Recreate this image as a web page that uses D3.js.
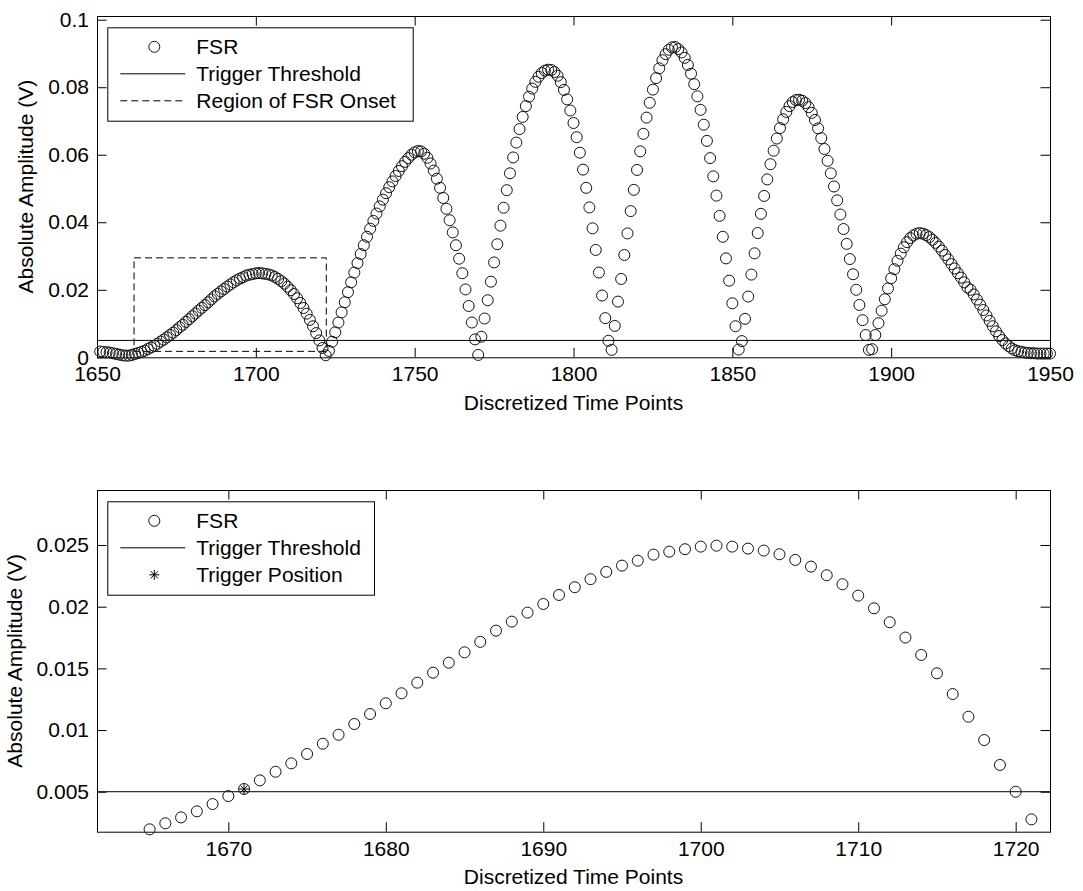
<!DOCTYPE html>
<html>
<head>
<meta charset="utf-8">
<script src="https://cdn.jsdelivr.net/npm/d3@7"></script>
<style>
  body { margin: 0; background: #fff; }
  svg { display: block; font-family: "Liberation Sans", Arial, sans-serif; }
</style>
</head>
<body>
<script>
// ----------------------- DATA
// FSR absolute amplitude, one value per discretized time point, starting at fsrStart
const fsrStart = 1651;
const fsrValues = [
  0.0017, 0.0016, 0.0015, 0.0014, 0.0012, 0.0010, 0.0008, 0.0006, 0.0005, 0.0005,
  0.0007, 0.0010, 0.0013, 0.0016,
  // 1665 - 1721
  0.00195, 0.00244, 0.00292, 0.00341, 0.0040, 0.00465, 0.00522, 0.00592, 0.00662, 0.0073,
  0.00806, 0.00889, 0.00962, 0.01049, 0.0113, 0.01217, 0.01298, 0.01384, 0.01465, 0.01546,
  0.0163, 0.01715, 0.01806, 0.01879, 0.01952, 0.02022, 0.02095, 0.02158, 0.02223, 0.02282,
  0.02333, 0.02373, 0.02422, 0.02446, 0.02466, 0.02487, 0.02495, 0.02487, 0.02471, 0.02455,
  0.02425, 0.02379, 0.02325, 0.02255, 0.02182, 0.0209, 0.01987, 0.01874, 0.0175, 0.01609,
  0.0146, 0.01292, 0.01108, 0.00919, 0.00717, 0.0050, 0.00276,
  // 1722 - 1770
  0.0006, 0.0019, 0.0046, 0.0074, 0.0103, 0.0133, 0.0163, 0.0193, 0.0222, 0.0251,
  0.0279, 0.0306, 0.0332, 0.0357, 0.0381, 0.0404, 0.0426, 0.0447, 0.0467, 0.0486,
  0.0504, 0.0521, 0.0537, 0.0552, 0.0566, 0.0579, 0.0590, 0.0600, 0.0607, 0.0611,
  0.0610, 0.0603, 0.0591, 0.0574, 0.0553, 0.0529, 0.0502, 0.0472, 0.0440, 0.0406,
  0.0370, 0.0332, 0.0292, 0.0249, 0.0201, 0.0152, 0.0103, 0.0053, 0.0007,
  // 1771 - 1812
  0.0061, 0.0115, 0.0169, 0.0224, 0.0281, 0.0335, 0.0390, 0.0443, 0.0495, 0.0545,
  0.0592, 0.0636, 0.0676, 0.0712, 0.0744, 0.0772, 0.0796, 0.0816, 0.0831, 0.0842,
  0.0849, 0.0852, 0.0851, 0.0845, 0.0834, 0.0815, 0.0792, 0.0764, 0.0731, 0.0694,
  0.0652, 0.0606, 0.0556, 0.0502, 0.0444, 0.0382, 0.0318, 0.0251, 0.0183, 0.0116,
  0.0049, 0.0022,
  // 1813 - 1852
  0.0093, 0.0165, 0.0232, 0.0303, 0.0367, 0.0433, 0.0496, 0.0555, 0.0610, 0.0662,
  0.0710, 0.0754, 0.0793, 0.0827, 0.0856, 0.0880, 0.0898, 0.0911, 0.0918, 0.0919,
  0.0913, 0.0903, 0.0887, 0.0866, 0.0840, 0.0809, 0.0773, 0.0733, 0.0689, 0.0641,
  0.0590, 0.0536, 0.0479, 0.0419, 0.0357, 0.0293, 0.0227, 0.0160, 0.0092, 0.0023,
  // 1853 - 1894
  0.0048, 0.0114, 0.0180, 0.0245, 0.0308, 0.0368, 0.0425, 0.0478, 0.0527, 0.0572,
  0.0612, 0.0648, 0.0679, 0.0705, 0.0727, 0.0744, 0.0756, 0.0762, 0.0763, 0.0760,
  0.0753, 0.0741, 0.0724, 0.0703, 0.0678, 0.0649, 0.0617, 0.0582, 0.0545, 0.0506,
  0.0465, 0.0423, 0.0380, 0.0336, 0.0291, 0.0246, 0.0200, 0.0155, 0.0110, 0.0066,
  0.0022, 0.0024,
  // 1895 - 1950
  0.0066, 0.0101, 0.0138, 0.0172, 0.0204, 0.0234, 0.0261, 0.0286, 0.0307, 0.0326,
  0.0341, 0.0353, 0.0361, 0.0366, 0.0368, 0.0366, 0.0362, 0.0356, 0.0348, 0.0339,
  0.0328, 0.0316, 0.0303, 0.0290, 0.0276, 0.0263, 0.0249, 0.0236, 0.0222, 0.0207,
  0.0200, 0.0186, 0.0171, 0.0156, 0.0140, 0.0124, 0.0108, 0.0092, 0.0077, 0.0063,
  0.0051, 0.0041, 0.0033, 0.0026, 0.0021, 0.0018, 0.0016, 0.0014, 0.0013, 0.0012,
  0.0012, 0.0011, 0.0011, 0.0011, 0.0011, 0.0011
];

const threshold = 0.005;
const triggerPoint = [1671, 0.00522];

// region of FSR onset (also the limits of the lower panel)
const onsetX = [1661.66, 1722.18];
const onsetY = [0.00176, 0.02946];

const topXDomain = [1650, 1950];
const topYDomain = [0, 0.1011];
const topXTicks = [1650, 1700, 1750, 1800, 1850, 1900, 1950];
const topYTicks = [0, 0.02, 0.04, 0.06, 0.08, 0.1];
const botXTicks = [1670, 1680, 1690, 1700, 1710, 1720];
const botYTicks = [0.005, 0.01, 0.015, 0.02, 0.025];

const topLegend = ['FSR', 'Trigger Threshold', 'Region of FSR Onset'];
const botLegend = ['FSR', 'Trigger Threshold', 'Trigger Position'];
const xLabel = 'Discretized Time Points';
const yLabel = 'Absolute Amplitude (V)';

const fsr = fsrValues.map((v, i) => ({ t: fsrStart + i, v: v }));

// ----------------------- SETTINGS
const W = 1083, H = 891;
const fontSize = 21;
const tickLen = 9.5;
const markerR = 5.5;

const svg = d3.select('body').append('svg')
  .attr('width', W)
  .attr('height', H);

svg.append('rect').attr('width', W).attr('height', H).attr('fill', '#fff');

// asterisk marker path (plus + cross)
function asterisk(s) {
  const d = s * 0.72;
  return `M0,${-s}V${s}M${-s},0H${s}M${-d},${-d}L${d},${d}M${-d},${d}L${d},${-d}`;
}

function drawPanel(box, xDomain, yDomain, xTicks, yTicks, yLabelX, legend, kind) {
  const x = d3.scaleLinear().domain(xDomain).range([box.left, box.right]);
  const y = d3.scaleLinear().domain(yDomain).range([box.bottom, box.top]);
  const g = svg.append('g');

  const styleAxis = sel => {
    sel.attr('font-size', fontSize)
      .attr('font-family', '"Liberation Sans", Arial, sans-serif');
    sel.select('.domain').remove();
    sel.selectAll('.tick line').attr('stroke', '#000');
    sel.selectAll('.tick text').attr('fill', '#000');
  };

  // axes, ticks pointing inwards on all four sides
  g.append('g')
    .attr('transform', `translate(0,${box.bottom})`)
    .call(d3.axisBottom(x).tickValues(xTicks).tickSizeInner(-tickLen).tickSizeOuter(0).tickPadding(9).tickFormat(d => String(d)))
    .call(styleAxis);
  g.append('g')
    .attr('transform', `translate(0,${box.top})`)
    .call(d3.axisTop(x).tickValues(xTicks).tickSizeInner(-tickLen).tickSizeOuter(0).tickFormat(''))
    .call(styleAxis);
  g.append('g')
    .attr('transform', `translate(${box.left},0)`)
    .call(d3.axisLeft(y).tickValues(yTicks).tickSizeInner(-tickLen).tickSizeOuter(0).tickPadding(8).tickFormat(d => String(d)))
    .call(styleAxis);
  g.append('g')
    .attr('transform', `translate(${box.right},0)`)
    .call(d3.axisRight(y).tickValues(yTicks).tickSizeInner(-tickLen).tickSizeOuter(0).tickFormat(''))
    .call(styleAxis);

  // frame
  g.append('rect')
    .attr('x', box.left + 0.5)
    .attr('y', box.top + 0.5)
    .attr('width', box.right - box.left)
    .attr('height', box.bottom - box.top)
    .attr('fill', 'none')
    .attr('stroke', '#000');

  // labels
  g.append('text')
    .attr('x', (box.left + box.right) / 2)
    .attr('y', box.bottom + 45)
    .attr('dy', '0.35em')
    .attr('text-anchor', 'middle')
    .attr('font-size', fontSize)
    .text(xLabel);
  g.append('text')
    .attr('transform', `translate(${yLabelX},${(box.top + box.bottom) / 2}) rotate(-90)`)
    .attr('dy', '0.35em')
    .attr('text-anchor', 'middle')
    .attr('font-size', fontSize)
    .text(yLabel);

  // trigger threshold
  g.append('line')
    .attr('x1', box.left).attr('x2', box.right)
    .attr('y1', y(threshold)).attr('y2', y(threshold))
    .attr('stroke', '#000');

  if (kind === 'top') {
    g.append('rect')
      .attr('x', x(onsetX[0]))
      .attr('y', y(onsetY[1]))
      .attr('width', x(onsetX[1]) - x(onsetX[0]))
      .attr('height', y(onsetY[0]) - y(onsetY[1]))
      .attr('fill', 'none')
      .attr('stroke', '#000')
      .attr('stroke-dasharray', '7,4');
  }

  // FSR markers, only those inside the limits (markers themselves are not clipped)
  const inside = fsr.filter(d => d.t >= xDomain[0] && d.t <= xDomain[1] && d.v >= yDomain[0] && d.v <= yDomain[1]);
  g.append('g')
    .selectAll('circle')
    .data(inside)
    .enter().append('circle')
    .attr('cx', d => x(d.t))
    .attr('cy', d => y(d.v))
    .attr('r', markerR)
    .attr('fill', 'none')
    .attr('stroke', '#111')
    .attr('stroke-width', 1);

  if (kind === 'bottom') {
    g.append('path')
      .attr('transform', `translate(${x(triggerPoint[0])},${y(triggerPoint[1])})`)
      .attr('d', asterisk(5))
      .attr('stroke', '#000')
      .attr('fill', 'none');
  }

  // legend
  const lg = g.append('g');
  const lgLeft = box.left + 10.3;
  const lgTop = box.top + 11.3;
  const lgWidth = kind === 'top' ? 305.4 : 266.7;
  lg.append('rect')
    .attr('x', lgLeft + 0.5).attr('y', lgTop + 0.5)
    .attr('width', lgWidth).attr('height', 93.4)
    .attr('fill', '#fff').attr('stroke', '#000');

  legend.forEach((label, i) => {
    const cy = lgTop + 19.5 + i * 27;
    if (i === 0) {
      lg.append('circle').attr('cx', lgLeft + 47).attr('cy', cy).attr('r', markerR)
        .attr('fill', 'none').attr('stroke', '#111');
    } else if (i === 1 || kind === 'top') {
      lg.append('line')
        .attr('x1', lgLeft + 13).attr('x2', lgLeft + 78)
        .attr('y1', cy).attr('y2', cy)
        .attr('stroke', '#000')
        .attr('stroke-dasharray', i === 2 ? '7,4' : null);
    } else {
      lg.append('path')
        .attr('transform', `translate(${lgLeft + 47},${cy})`)
        .attr('d', asterisk(5))
        .attr('stroke', '#000').attr('fill', 'none');
    }
    lg.append('text')
      .attr('x', lgLeft + 89)
      .attr('y', cy)
      .attr('dy', '0.35em')
      .attr('font-size', fontSize)
      .text(label);
  });
}

drawPanel({ left: 97, right: 1050, top: 16, bottom: 357.3 },
  topXDomain, topYDomain, topXTicks, topYTicks, 26, topLegend, 'top');

drawPanel({ left: 97, right: 1050, top: 490, bottom: 831.7 },
  onsetX, onsetY, botXTicks, botYTicks, 15, botLegend, 'bottom');
</script>
</body>
</html>
